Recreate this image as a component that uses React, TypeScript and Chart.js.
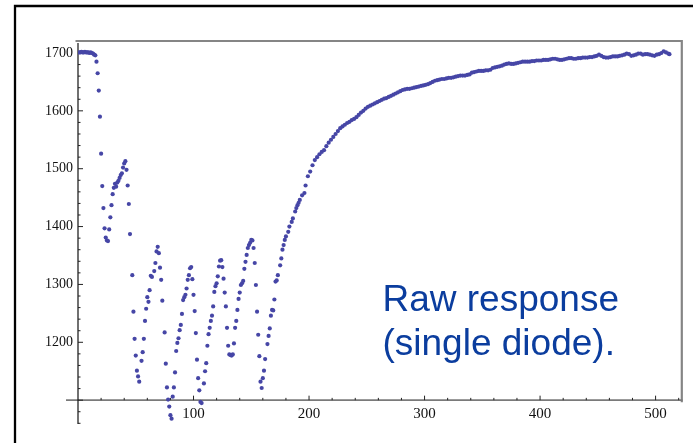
import React, { useEffect, useRef } from "react";
import { Chart, registerables } from "chart.js";

Chart.register(...registerables);

// [sample index, raw response]: initial drop and oscillation
const burstSamples: [number, number][] = [
  [1, 1701], [2, 1701], [3, 1702], [4, 1701], [5, 1701], [6, 1702], [7, 1701], [8, 1701],
  [9, 1701], [10, 1700], [11, 1701], [12, 1700], [13, 1699], [14, 1697], [15, 1696], [16, 1685],
  [17, 1665], [18, 1635], [19, 1590], [20, 1526], [21, 1470], [22, 1432], [23, 1397], [24, 1381],
  [25, 1376], [26, 1375], [27, 1395], [28, 1416], [29, 1437], [30, 1456], [31, 1467], [32, 1474],
  [33, 1469], [34, 1476], [35, 1479], [36, 1484], [37, 1489], [38, 1492], [39, 1502], [40, 1509],
  [41, 1513], [42, 1498], [43, 1471], [44, 1439], [45, 1387], [47, 1316], [48, 1253], [49, 1206],
  [50, 1177], [51, 1151], [52, 1141], [53, 1132], [55, 1168], [56, 1183], [57, 1206], [58, 1237],
  [59, 1258], [60, 1278], [61, 1270], [62, 1290], [63, 1315], [64, 1313], [66, 1323], [67, 1337],
  [68, 1357], [69, 1365], [70, 1354], [71, 1329], [72, 1308], [73, 1272], [75, 1217], [76, 1163],
  [77, 1122], [78, 1101], [79, 1089], [80, 1074], [81, 1068], [82, 1106], [83, 1122], [84, 1148],
  [85, 1185], [86, 1199], [87, 1207], [88, 1221], [89, 1230], [90, 1249], [91, 1273], [92, 1278],
  [93, 1282], [94, 1293], [95, 1308], [96, 1316], [97, 1328], [98, 1330], [99, 1309], [100, 1282],
  [101, 1254], [102, 1216], [103, 1170], [104, 1138], [105, 1117], [106, 1097], [107, 1095], [109, 1129],
  [110, 1150], [111, 1164], [112, 1194], [113, 1214], [114, 1225], [115, 1237], [116, 1246], [117, 1262],
  [118, 1287], [119, 1297], [120, 1302], [121, 1314], [122, 1331], [123, 1341], [124, 1342], [125, 1330],
  [126, 1310], [127, 1286], [128, 1262], [129, 1225], [130, 1194], [131, 1179], [132, 1178], [133, 1177],
  [134, 1179], [135, 1198], [136, 1225], [137, 1237], [138, 1256], [139, 1275], [140, 1286], [141, 1299],
  [142, 1302], [143, 1306], [144, 1327], [145, 1339], [146, 1351], [147, 1363], [148, 1368], [149, 1372],
  [150, 1377], [151, 1376], [152, 1363], [153, 1337], [154, 1299], [155, 1253], [156, 1213], [157, 1176],
  [158, 1132], [159, 1121], [160, 1138], [161, 1151], [162, 1171], [164, 1197], [165, 1211], [166, 1224],
  [167, 1246], [168, 1256], [169, 1255], [170, 1274], [171, 1305], [172, 1307], [173, 1316], [175, 1333],
  [176, 1345], [177, 1360], [178, 1368], [179, 1377], [180, 1383], [182, 1391], [183, 1400], [185, 1408],
  [186, 1414], [188, 1426], [189, 1432], [190, 1437], [191, 1441], [192, 1446],
];

// [sample index, raw response]: recovery towards 1700
const recoverySamples: [number, number][] = [
  [194, 1454], [196, 1458], [197, 1471], [199, 1487], [201, 1495], [203, 1506], [205, 1515], [207, 1520],
  [209, 1525], [211, 1529], [213, 1532], [215, 1539], [217, 1545], [219, 1550], [221, 1555], [223, 1560],
  [225, 1565], [227, 1570], [229, 1573], [231, 1576], [233, 1579], [235, 1581], [237, 1584], [239, 1586],
  [241, 1589], [243, 1593], [245, 1597], [247, 1600], [249, 1604], [251, 1607], [253, 1609], [255, 1611],
  [257, 1613], [259, 1615], [261, 1617], [263, 1619], [265, 1621], [267, 1622], [269, 1624], [271, 1626],
  [273, 1628], [275, 1630], [277, 1632], [279, 1634], [281, 1636], [283, 1637], [285, 1638], [287, 1638],
  [289, 1639], [291, 1640], [293, 1641], [295, 1642], [297, 1643], [299, 1644], [301, 1645], [303, 1646],
  [305, 1648], [307, 1650], [309, 1652], [311, 1653], [313, 1654], [315, 1655], [317, 1655], [319, 1656],
  [321, 1657], [323, 1657], [325, 1658], [327, 1659], [329, 1660], [331, 1661], [333, 1661], [335, 1661],
  [337, 1662], [339, 1663], [341, 1666], [343, 1667], [345, 1668], [347, 1669], [349, 1669], [351, 1669],
  [353, 1670], [355, 1670], [357, 1671], [359, 1674], [361, 1675], [363, 1676], [365, 1677], [367, 1678],
  [369, 1680], [371, 1681], [373, 1682], [375, 1681], [377, 1681], [379, 1682], [381, 1683], [383, 1684],
  [385, 1685], [387, 1685], [389, 1685], [391, 1685], [393, 1686], [395, 1686], [397, 1687], [399, 1687],
  [401, 1687], [403, 1688], [405, 1688], [407, 1688], [409, 1689], [411, 1690], [413, 1690], [415, 1689],
  [417, 1688], [419, 1688], [421, 1689], [423, 1690], [425, 1691], [427, 1691], [429, 1690], [431, 1690],
  [433, 1691], [435, 1691], [437, 1692], [439, 1692], [441, 1692], [443, 1693], [445, 1693], [447, 1694],
  [449, 1695], [451, 1697], [453, 1695], [455, 1693], [457, 1692], [459, 1692], [461, 1693], [463, 1694],
  [465, 1694], [467, 1694], [469, 1695], [471, 1696], [473, 1697], [475, 1699], [477, 1698], [479, 1695],
  [481, 1696], [483, 1697], [485, 1699], [487, 1699], [489, 1697], [491, 1698], [493, 1698], [495, 1697],
  [497, 1696], [499, 1695], [501, 1697], [503, 1698], [505, 1700], [507, 1703], [509, 1701], [511, 1699],
  [512, 1698],
];

const xTickLabels = [100, 200, 300, 400, 500];
const yTickLabels = [1200, 1300, 1400, 1500, 1600, 1700];
const annotationLines = ["Raw response", "(single diode)."];

const X_MIN = 0;
const X_MAX = 522;
const Y_MIN = 1058.8;
const Y_MAX = 1720.7;
const AXIS_CROSS_Y = 1100;
const MINOR_STEP = 20;

const POINT_COLOR = "#4646a6";

const framePlugin = {
  id: "slideFrame",
  beforeDatasetsDraw(chart: any) {
    const { ctx, chartArea, scales } = chart;
    const xs = scales.x;
    const ys = scales.y;
    const axisY = ys.getPixelForValue(AXIS_CROSS_Y);
    const axisX = xs.getPixelForValue(0);
    ctx.save();
    // slide border
    ctx.strokeStyle = "#000";
    ctx.lineWidth = 2.3;
    ctx.beginPath();
    ctx.moveTo(15, 443);
    ctx.lineTo(15, 6);
    ctx.lineTo(693, 6);
    ctx.stroke();
    // gray plot frame (top, right)
    ctx.strokeStyle = "#858585";
    ctx.lineWidth = 2.2;
    ctx.beginPath();
    ctx.moveTo(axisX - 2.5, chartArea.top);
    ctx.lineTo(chartArea.right + 0.8, chartArea.top);
    ctx.lineTo(chartArea.right + 0.8, axisY + 2);
    ctx.stroke();
    // x axis line
    ctx.strokeStyle = "#7a7a7a";
    ctx.lineWidth = 1.6;
    ctx.beginPath();
    ctx.moveTo(axisX - 12, axisY);
    ctx.lineTo(chartArea.right + 1.5, axisY);
    ctx.stroke();
    // y axis line
    ctx.strokeStyle = "#111";
    ctx.lineWidth = 1.2;
    ctx.beginPath();
    ctx.moveTo(axisX, chartArea.top + 2);
    ctx.lineTo(axisX, chartArea.bottom);
    ctx.stroke();
    // ticks
    ctx.strokeStyle = "#222";
    ctx.lineWidth = 1;
    ctx.beginPath();
    for (let v = MINOR_STEP; v <= X_MAX; v += MINOR_STEP) {
      const px = xs.getPixelForValue(v);
      const len = v % 100 === 0 ? 4.5 : 2.3;
      ctx.moveTo(px, axisY);
      ctx.lineTo(px, axisY - len);
    }
    for (let v = 1060; v <= 1700; v += MINOR_STEP) {
      const py = ys.getPixelForValue(v);
      const len = v % 100 === 0 ? 5 : 2.5;
      ctx.moveTo(axisX, py);
      ctx.lineTo(axisX + len, py);
    }
    ctx.stroke();
    ctx.restore();
  },
};

export default function App() {
  const canvasRef = useRef<HTMLCanvasElement | null>(null);

  useEffect(() => {
    const canvas = canvasRef.current;
    if (!canvas) return;
    const points = [...burstSamples, ...recoverySamples].map(([x, y]) => ({ x, y }));
    const chart = new Chart(canvas, {
      type: "scatter",
      data: {
        datasets: [
          {
            data: points,
            backgroundColor: POINT_COLOR,
            borderWidth: 0,
            pointRadius: 2.1,
            pointHoverRadius: 2.1,
          },
        ],
      },
      options: {
        animation: false,
        responsive: false,
        events: [],
        layout: { padding: { top: 41, left: 18, right: 12, bottom: 19 } },
        plugins: { legend: { display: false }, tooltip: { enabled: false } },
        scales: {
          x: {
            type: "linear",
            min: X_MIN,
            max: X_MAX,
            position: { y: AXIS_CROSS_Y } as any,
            grid: { display: false, drawTicks: false },
            border: { display: false },
            afterBuildTicks: (s: any) => {
              s.ticks = xTickLabels.map((v) => ({ value: v }));
            },
            ticks: {
              padding: 5,
              color: "#111",
              maxRotation: 0,
              autoSkip: false,
              font: { family: "'Liberation Serif', 'Times New Roman', serif", size: 15 },
              callback: (v: any) => String(v),
            },
          },
          y: {
            type: "linear",
            min: Y_MIN,
            max: Y_MAX,
            position: "left",
            grid: { display: false, drawTicks: false },
            border: { display: false },
            afterFit: (s: any) => {
              s.width = 60;
            },
            afterBuildTicks: (s: any) => {
              s.ticks = yTickLabels.map((v) => ({ value: v }));
            },
            ticks: {
              padding: 5,
              color: "#111",
              autoSkip: false,
              font: { family: "'Liberation Serif', 'Times New Roman', serif", size: 14 },
              callback: (v: any) => String(v),
            },
          },
        },
      },
      plugins: [framePlugin],
    });
    return () => chart.destroy();
  }, []);

  return (
    <div style={{ position: "fixed", left: 0, top: 0, width: 693, height: 443, background: "#fff", overflow: "hidden" }}>
      <canvas ref={canvasRef} width={693} height={443} style={{ position: "absolute", left: 0, top: 0 }} />
      <div
        style={{
          position: "absolute",
          left: 382.5,
          top: 277,
          fontFamily: "'Liberation Sans', Arial, sans-serif",
          fontSize: 37,
          lineHeight: "44px",
          color: "#0b3d9e",
          whiteSpace: "nowrap",
        }}
      >
        {annotationLines.map((line) => (
          <div key={line}>{line}</div>
        ))}
      </div>
    </div>
  );
}
